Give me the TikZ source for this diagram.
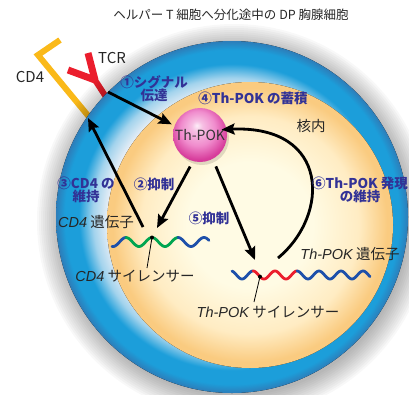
\documentclass[tikz,border=0pt]{standalone}
\usepackage{fontspec}
\setmainfont{Noto Sans CJK JP}
\newfontfamily\genefont{Liberation Sans}
\usetikzlibrary{arrows.meta}
\usetikzlibrary{positioning}

\definecolor{cellblue}{RGB}{28,158,218}
\definecolor{celledge}{RGB}{45,125,185}
\definecolor{cellpale}{RGB}{236,240,247}
\definecolor{nucedge}{RGB}{250,203,128}
\definecolor{nucmid}{RGB}{255,236,195}
\definecolor{nuccore}{RGB}{255,251,228}
\definecolor{stepblue}{RGB}{50,50,150}
\definecolor{dnablue}{RGB}{30,80,170}
\definecolor{dnagreen}{RGB}{0,165,80}
\definecolor{dnared}{RGB}{235,30,45}
\definecolor{cdyellow}{RGB}{250,185,25}
\definecolor{pokpink}{RGB}{240,140,205}
\definecolor{pokrim}{RGB}{215,60,155}

\pgfdeclareradialshading{cellshade}{\pgfpointorigin}{color(0bp)=(cellpale); color(17.5bp)=(cellpale); color(19.75bp)=(cellblue!35!cellpale); color(21.75bp)=(cellblue); color(23.75bp)=(cellblue); color(25bp)=(celledge); color(50bp)=(celledge)}
\pgfdeclareradialshading{nucshade}{\pgfpointorigin}{color(0bp)=(nuccore); color(11bp)=(nuccore); color(19bp)=(nucmid); color(24bp)=(nucedge); color(50bp)=(nucedge)}
\pgfdeclareradialshading{pokball}{\pgfpoint{-3bp}{9bp}}{color(0bp)=(white!85!pokpink); color(5bp)=(pokpink!55!white); color(16bp)=(pokpink); color(27bp)=(pokrim); color(50bp)=(pokrim)}

\newcommand{\gene}[1]{{\genefont\itshape #1}}

\begin{document}
\begin{tikzpicture}[x=1pt,y=-1pt,
  arr/.style={line width=2.8pt,-{Stealth[length=13pt,width=11pt,inset=2pt]}},
  steplabel/.style={text=stepblue,font=\bfseries\fontsize{13.5}{13.5}\selectfont,align=center,inner sep=0pt},
  plainlabel/.style={text=black!85,font=\fontsize{14.5}{15}\selectfont,inner sep=0pt},
  dna/.style={line width=2.8pt,line cap=round},
  tick/.style={line width=0.8pt}]
\useasboundingbox (0,0) rectangle (409,394);

\node[text=black!85,font=\fontsize{12.5}{13}\selectfont] (title) at (231,15) {ヘルパー T 細胞へ分化途中の DP 胸腺細胞};

\draw[line width=6pt,cdyellow] (60,40) -- (38,55) -- (90,118);
\draw[line width=7pt,dnared] (68,70) -- (95,80);
\draw[line width=7pt,dnared] (88,53) -- (95,80);
\draw[line width=6pt,dnared] (95,80) -- (108,100);
\node[plainlabel,font=\fontsize{15}{15}\selectfont] (cdlabel) at (30,77) {CD4};
\node[plainlabel,font=\fontsize{15}{15}\selectfont] (tcrlabel) at (112,58) {TCR};

\foreach \r in {0,2,...,22}
  \fill[black,opacity=0.028] (234,221) circle (175+\r);
\fill[shading=cellshade] (232,217) circle (176);
\fill[shading=nucshade] (250,225) circle (143);

\fill[black,opacity=0.12] (202,138) circle (27);
\node[circle,minimum size=54pt,inner sep=0pt,shade,shading=pokball,text=black!80,font=\fontsize{14}{14}\selectfont] (thpok) at (200,135) {Th-POK};

\node[plainlabel] (nucleus) at (311,126) {核内};

\foreach \a/\b/\c in {112/126/dnablue,126/178/dnagreen,178/209/dnablue}
  \draw[dna,\c] plot[domain=\a:\b,samples=40] (\x,{242-4.5*cos(360/26*(\x-126))});
\foreach \a/\b/\c in {232/253/dnablue,253/297/dnared,297/370/dnablue}
  \draw[dna,\c] plot[domain=\a:\b,samples=60] (\x,{275-4*cos(360/22*(\x-253))});

\coordinate (tcrbase) at (108,92);
\coordinate (cd4in) at (157,228);
\coordinate (cd4out) at (143,227);
\coordinate (cd4mem) at (88,118);
\coordinate (pokin) at (255,260);
\coordinate (pokout) at (278,258);
\draw[arr,shorten >=3pt] (tcrbase) -- (thpok.160);
\draw[arr,shorten <=6pt] (thpok.-105) -- (cd4in);
\draw[arr,shorten <=8pt] (thpok.-62) -- (pokin);
\draw[arr] (cd4out) -- (cd4mem);
\draw[arr,shorten >=-5pt] (pokout) .. controls (330,215) and (330,125) .. (thpok.12);

\node[steplabel] (step1) at (154,88.5) {①シグナル\\伝達};
\node[steplabel] (step2) at (154,184) {②抑制};
\node[steplabel] (step3) at (86,190) {③CD4 の\\維持};
\node[steplabel] (step4) at (253,98) {④Th-POK の蓄積};
\node[steplabel] (step5) at (209,218) {⑤抑制};
\node[steplabel] (step6) at (360,190) {⑥Th-POK 発現\\の維持};

\node[plainlabel] (cd4gene) at (96,222) {\gene{CD4} 遺伝子};
\node[plainlabel] (pokgene) at (350,254) {\gene{Th-POK} 遺伝子};
\node[plainlabel] (cd4sil) at (135,276) {\gene{CD4} サイレンサー};
\node[plainlabel] (poksil) at (268,312) {\gene{Th-POK} サイレンサー};

\coordinate (cd4dot) at (152,237.5);
\coordinate (cd4tick) at (147,268);
\coordinate (pokdot) at (260,{275-4*cos(360/22*7)});
\coordinate (poktick) at (254,302);
\fill (cd4dot) circle (2);
\fill (pokdot) circle (2);
\draw[tick] (cd4dot) -- (cd4tick);
\draw[tick] (pokdot) -- (poktick);
\end{tikzpicture}
\end{document}
